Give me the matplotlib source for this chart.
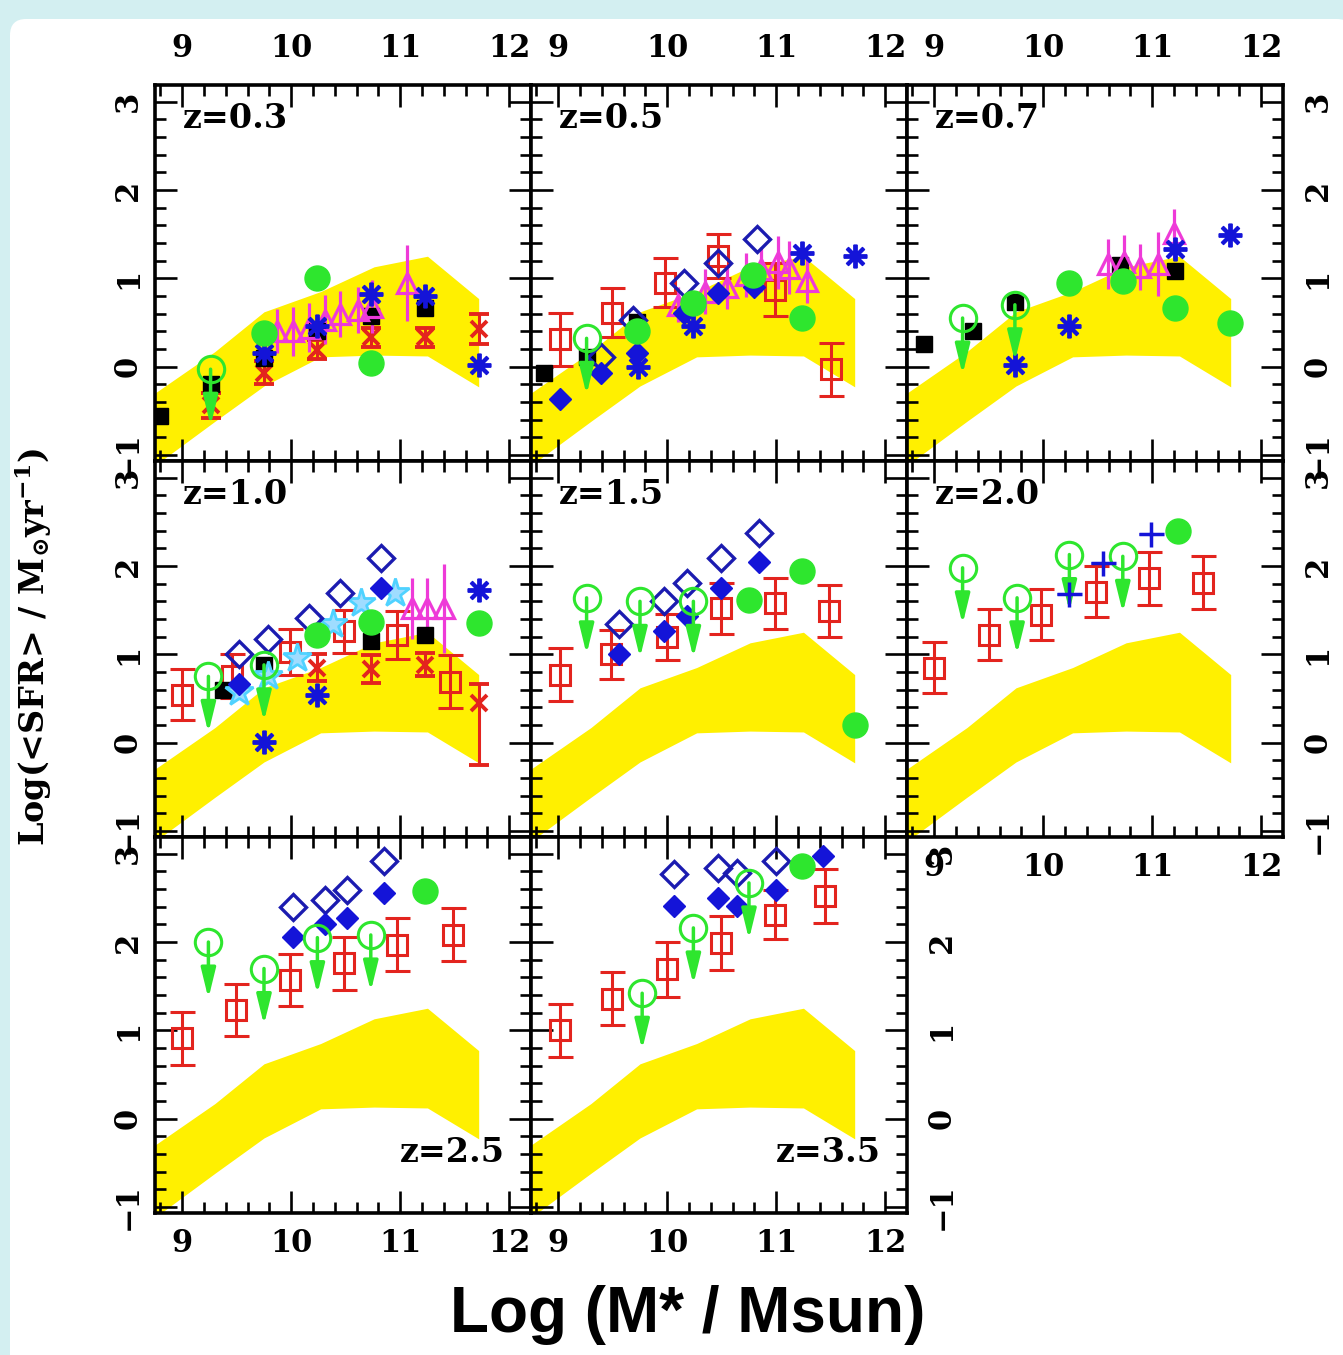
import matplotlib
matplotlib.use('Agg')
import matplotlib.pyplot as plt
from matplotlib.patches import FancyBboxPatch

plt.rcParams['mathtext.default'] = 'regular'
plt.rcParams['mathtext.fontset'] = 'dejavuserif'

# ---------------- data ----------------
PANEL_LABELS = ['z=0.3', 'z=0.5', 'z=0.7', 'z=1.0', 'z=1.5', 'z=2.0', 'z=2.5', 'z=3.5']
XTICKS = [9, 10, 11, 12]
YTICKS = [-1, 0, 1, 2, 3]
X_LABEL = 'Log (M* / Msun)'
Y_LABEL = r'Log(<SFR> / M$_{\odot}$yr$^{-1}$)'

# yellow model band (same in all panels)
BAND_X = [8.75, 9.30, 9.75, 10.27, 10.76, 11.25, 11.72]
BAND_UPPER = [-0.30, 0.17, 0.62, 0.85, 1.13, 1.25, 0.77]
BAND_LOWER = [-1.12, -0.62, -0.22, 0.11, 0.13, 0.12, -0.23]

# red open squares with error bars: panel -> (x, y, err)
RED_SQ = {
    1: ([9.02, 9.49, 9.98, 10.47, 10.99, 11.50], [0.31, 0.61, 0.95, 1.25, 0.87, -0.03], [0.30, 0.28, 0.28, 0.25, 0.30, 0.30]),
    3: ([9.00, 9.46, 9.99, 10.48, 10.97, 11.46], [0.54, 0.75, 1.03, 1.26, 1.22, 0.69], [0.29, 0.25, 0.26, 0.24, 0.27, 0.30]),
    4: ([9.02, 9.48, 10.00, 10.49, 10.99, 11.48], [0.77, 1.00, 1.20, 1.52, 1.58, 1.49], [0.30, 0.28, 0.26, 0.29, 0.29, 0.29]),
    5: ([9.00, 9.50, 9.98, 10.48, 10.97, 11.47], [0.85, 1.22, 1.45, 1.71, 1.86, 1.81], [0.29, 0.29, 0.29, 0.29, 0.30, 0.30]),
    6: ([9.00, 9.49, 9.99, 10.48, 10.97, 11.48], [0.91, 1.23, 1.57, 1.76, 1.97, 2.08], [0.30, 0.30, 0.30, 0.30, 0.30, 0.30]),
    7: ([9.02, 9.49, 10.00, 10.49, 10.99, 11.45], [1.00, 1.36, 1.69, 1.99, 2.31, 2.52], [0.30, 0.30, 0.31, 0.31, 0.28, 0.31]),
}

# red crosses with capped error bars: panel -> (x, y, err_low, err_high)
RED_X = {
    0: ([9.26, 9.75, 10.24, 10.73, 11.23, 11.72], [-0.43, -0.07, 0.19, 0.33, 0.33, 0.42],
        [0.15, 0.13, 0.11, 0.11, 0.11, 0.17], [0.13, 0.13, 0.11, 0.11, 0.11, 0.17]),
    3: ([10.24, 10.73, 11.23, 11.72], [0.85, 0.83, 0.88, 0.45],
        [0.15, 0.16, 0.13, 0.70], [0.15, 0.16, 0.13, 0.21]),
}

# magenta open triangles with error bars: panel -> (x, y, err)
MAG_TRI = {
    0: ([9.87, 10.02, 10.16, 10.31, 10.45, 10.61, 10.74, 11.06], [0.40, 0.40, 0.44, 0.53, 0.60, 0.64, 0.68, 0.95],
        [0.25, 0.28, 0.28, 0.28, 0.26, 0.26, 0.30, 0.43]),
    1: ([10.10, 10.35, 10.55, 10.72, 10.86, 11.02, 11.12, 11.28], [0.70, 0.85, 0.90, 1.04, 1.10, 1.18, 1.12, 0.97],
        [0.20, 0.25, 0.25, 0.25, 0.25, 0.30, 0.30, 0.25]),
    2: ([10.59, 10.74, 10.89, 11.05, 11.20], [1.16, 1.19, 1.13, 1.16, 1.51], [0.28, 0.30, 0.26, 0.36, 0.28]),
    3: ([11.11, 11.25, 11.40], [1.52, 1.52, 1.52], [0.35, 0.35, 0.50]),
}

# black filled squares: panel -> (x, y)
BLACK_SQ = {
    0: ([8.80, 9.26, 9.75, 10.24, 10.73, 11.23], [-0.56, -0.20, 0.10, 0.40, 0.57, 0.66]),
    1: ([8.87, 9.26, 9.72], [-0.07, 0.11, 0.50]),
    2: ([8.91, 9.36, 9.74, 10.70, 11.21], [0.25, 0.40, 0.73, 1.15, 1.08]),
    3: ([9.37, 9.75, 10.73, 11.23], [0.60, 0.88, 1.15, 1.22]),
}

# blue asterisks: panel -> (x, y)
BLUE_AST = {
    0: ([9.75, 10.24, 10.73, 11.23, 11.72], [0.15, 0.46, 0.82, 0.80, 0.02]),
    1: ([9.73, 10.24, 11.24, 11.72], [0.00, 0.46, 1.29, 1.25]),
    2: ([9.74, 10.24, 11.21, 11.71], [0.02, 0.46, 1.33, 1.49]),
    3: ([9.75, 10.24, 11.72], [0.01, 0.54, 1.73]),
}

# cyan stars: panel -> (x, y)
CYAN_STAR = {
    3: ([9.52, 9.79, 10.05, 10.38, 10.64, 10.95], [0.57, 0.75, 0.96, 1.34, 1.58, 1.70]),
}

# blue open diamonds: panel -> (x, y)
BLUE_OPEN_D = {
    1: ([9.39, 9.69, 10.15, 10.47, 10.82], [0.11, 0.53, 0.95, 1.17, 1.44]),
    3: ([9.52, 9.79, 10.16, 10.45, 10.82], [1.00, 1.17, 1.41, 1.70, 2.09]),
    4: ([9.56, 9.97, 10.18, 10.49, 10.84], [1.34, 1.60, 1.81, 2.09, 2.37]),
    6: ([10.02, 10.31, 10.51, 10.85], [2.40, 2.48, 2.59, 2.92]),
    7: ([10.06, 10.47, 10.64, 11.00], [2.77, 2.84, 2.78, 2.92]),
}

# blue filled diamonds: panel -> (x, y)
BLUE_FILL_D = {
    1: ([9.02, 9.39, 9.72, 10.15, 10.47, 10.80], [-0.37, -0.07, 0.15, 0.61, 0.83, 0.90]),
    3: ([9.52, 10.82], [0.66, 1.75]),
    4: ([9.56, 9.97, 10.18, 10.49, 10.84], [1.00, 1.26, 1.43, 1.75, 2.05]),
    6: ([10.02, 10.31, 10.51, 10.85], [2.06, 2.20, 2.27, 2.56]),
    7: ([10.06, 10.47, 10.64, 11.00, 11.43], [2.41, 2.50, 2.41, 2.59, 2.97]),
}

# green filled circles: panel -> (x, y)
GREEN_FILL = {
    0: ([9.75, 10.24, 10.73], [0.38, 1.00, 0.04]),
    1: ([9.72, 10.24, 10.79, 11.24], [0.40, 0.72, 1.04, 0.55]),
    2: ([10.24, 10.73, 11.21, 11.71], [0.95, 0.97, 0.66, 0.49]),
    3: ([10.24, 10.73, 11.72], [1.22, 1.37, 1.36]),
    4: ([10.75, 11.24, 11.72], [1.62, 1.94, 0.20]),
    5: ([11.24], [2.40]),
    6: ([11.23], [2.58]),
    7: ([11.24], [2.86]),
}

# green open circles = upper limits: panel -> (x, y)
GREEN_UL = {
    0: ([9.26], [-0.03]),
    1: ([9.26], [0.32]),
    2: ([9.26, 9.74], [0.55, 0.70]),
    3: ([9.24, 9.75], [0.75, 0.88]),
    4: ([9.26, 9.75, 10.24], [1.64, 1.60, 1.60]),
    5: ([9.26, 9.76, 10.24, 10.73], [1.98, 1.64, 2.13, 2.11]),
    6: ([9.24, 9.75, 10.24, 10.73], [2.00, 1.70, 2.05, 2.08]),
    7: ([9.77, 10.24, 10.75], [1.42, 2.16, 2.67]),
}

# blue plus signs: panel -> (x, y)
BLUE_PLUS = {
    5: ([10.24, 10.55, 10.99], [1.68, 2.03, 2.36]),
}

# ---------------- style ----------------
YELLOW = '#fff000'
RED = '#e3241e'
BLUE = '#1414d8'
NAVY = '#1b1bb0'
GREEN = '#2ee62e'
MAGENTA = '#ee3ad8'
CYAN = '#4fd2ff'
ARROW_LEN = 0.64

W, H, DPI = 1343, 1355, 100
fig = plt.figure(figsize=(W / DPI, H / DPI), dpi=DPI, facecolor='#d3eff1')
fig.patches.append(FancyBboxPatch((10 / W, -0.02), 1.0, 1 - 19 / H + 0.02,
                                  boxstyle='round,pad=0,rounding_size=0.012',
                                  transform=fig.transFigure, facecolor='white',
                                  edgecolor='none', zorder=-10))

LEFT0, TOP0, PW, PH = 155, 85, 376, 376
XLIM = (8.75, 12.2)
YLIM = (-1.07, 3.19)
TICKFONT = dict(family='DejaVu Serif', size=22, weight='bold')

axes = []
for idx in range(8):
    r, c = divmod(idx, 3)
    left = (LEFT0 + c * PW) / W
    bottom = 1 - (TOP0 + (r + 1) * PH) / H
    ax = fig.add_axes([left, bottom, PW / W, PH / H])
    axes.append(ax)
    ax.set_xlim(*XLIM)
    ax.set_ylim(*YLIM)
    ax.set_xticks(XTICKS)
    ax.set_yticks(YTICKS)
    ax.set_xticks([v / 5 for v in range(44, 61)], minor=True)
    ax.set_yticks([v / 5 for v in range(-5, 16)], minor=True)
    ax.set_xticklabels([str(v) for v in XTICKS], fontdict=TICKFONT)
    ax.set_yticklabels([str(v).replace('-', '\u2212') for v in YTICKS], fontdict=TICKFONT)
    for s in ax.spines.values():
        s.set_linewidth(2.6)
    ax.tick_params(which='both', direction='in', top=True, bottom=True, left=True, right=True,
                   labeltop=(r == 0), labelbottom=(r == 2 or idx == 5),
                   labelleft=(c == 0), labelright=(c == 2 or idx == 7), width=1.9)
    ax.tick_params(which='major', length=16)
    ax.tick_params(which='minor', length=8)
    ax.tick_params(axis='x', pad=(15 if r == 0 else 11))
    ax.tick_params(axis='y', labelrotation=90, pad=(8 if c == 0 else 14))
    for lab in ax.get_yticklabels():
        lab.set_verticalalignment('center')

    # model band
    ax.fill_between(BAND_X, BAND_LOWER, BAND_UPPER, color=YELLOW, lw=0, zorder=1)

    if idx in RED_SQ:
        x, y, e = RED_SQ[idx]
        ax.errorbar(x, y, yerr=e, fmt='s', ms=14, mfc='none', mec=RED, mew=2.2,
                    ecolor=RED, elinewidth=2.2, capsize=9, capthick=2.2, zorder=3)
    if idx in RED_X:
        x, y, lo, hi = RED_X[idx]
        ax.errorbar(x, y, yerr=[lo, hi], fmt='x', ms=12, mec=RED, mew=2.8,
                    ecolor=RED, elinewidth=2.2, capsize=7, capthick=2.8, zorder=3)
    if idx in MAG_TRI:
        x, y, e = MAG_TRI[idx]
        ax.errorbar(x, y, yerr=e, fmt='^', ms=14, mfc='none', mec=MAGENTA, mew=2.3,
                    ecolor=MAGENTA, elinewidth=2.3, capsize=0, zorder=4)
    if idx in BLACK_SQ:
        x, y = BLACK_SQ[idx]
        ax.plot(x, y, 's', ms=11, color='black', zorder=4)
    if idx in BLUE_AST:
        x, y = BLUE_AST[idx]
        ax.plot(x, y, marker=(8, 2, 0), ls='none', ms=17, mec=BLUE, mew=2.8, zorder=5)
    if idx in CYAN_STAR:
        x, y = CYAN_STAR[idx]
        ax.plot(x, y, '*', ms=21, mfc='#9fdcff', mec=CYAN, mew=2.0, zorder=5)
    if idx in BLUE_OPEN_D:
        x, y = BLUE_OPEN_D[idx]
        ax.plot(x, y, 'D', ms=13, mfc='none', mec=NAVY, mew=2.4, zorder=5)
    if idx in BLUE_FILL_D:
        x, y = BLUE_FILL_D[idx]
        ax.plot(x, y, 'D', ms=11, color=BLUE, zorder=5)
    if idx in GREEN_FILL:
        x, y = GREEN_FILL[idx]
        ax.plot(x, y, 'o', ms=18, color=GREEN, zorder=6)
    if idx in GREEN_UL:
        x, y = GREEN_UL[idx]
        ax.plot(x, y, 'o', ms=19, mfc='none', mec=GREEN, mew=2.2, zorder=6)
        for xi, yi in zip(x, y):
            ax.annotate('', xy=(xi, yi - ARROW_LEN), xytext=(xi, yi),
                        arrowprops=dict(arrowstyle='-|>,head_length=0.9,head_width=0.22',
                                        color=GREEN, lw=2.5, mutation_scale=20,
                                        shrinkA=0, shrinkB=0), zorder=6)
    if idx in BLUE_PLUS:
        x, y = BLUE_PLUS[idx]
        ax.errorbar(x, y, xerr=0.11, fmt='+', ms=18, mec=BLUE, mew=2.5,
                    ecolor=BLUE, elinewidth=2.0, capsize=0, zorder=6)

    # panel label
    if idx < 6:
        ax.text(0.074, 0.912, PANEL_LABELS[idx], transform=ax.transAxes, ha='left', va='center',
                family='DejaVu Serif', weight='bold', size=24, zorder=10)
    else:
        ax.text(0.93, 0.16, PANEL_LABELS[idx], transform=ax.transAxes, ha='right', va='center',
                family='DejaVu Serif', weight='bold', size=24, zorder=10)

fig.text(688 / W, 1 - 1315 / H, X_LABEL, ha='center', va='center',
         family='Liberation Sans', weight='bold', size=46)
fig.text(33 / W, 1 - 647 / H, Y_LABEL, ha='center', va='center', rotation=90,
         family='DejaVu Serif', weight='bold', size=24)

fig.savefig('out.png', dpi=DPI, facecolor=fig.get_facecolor())
